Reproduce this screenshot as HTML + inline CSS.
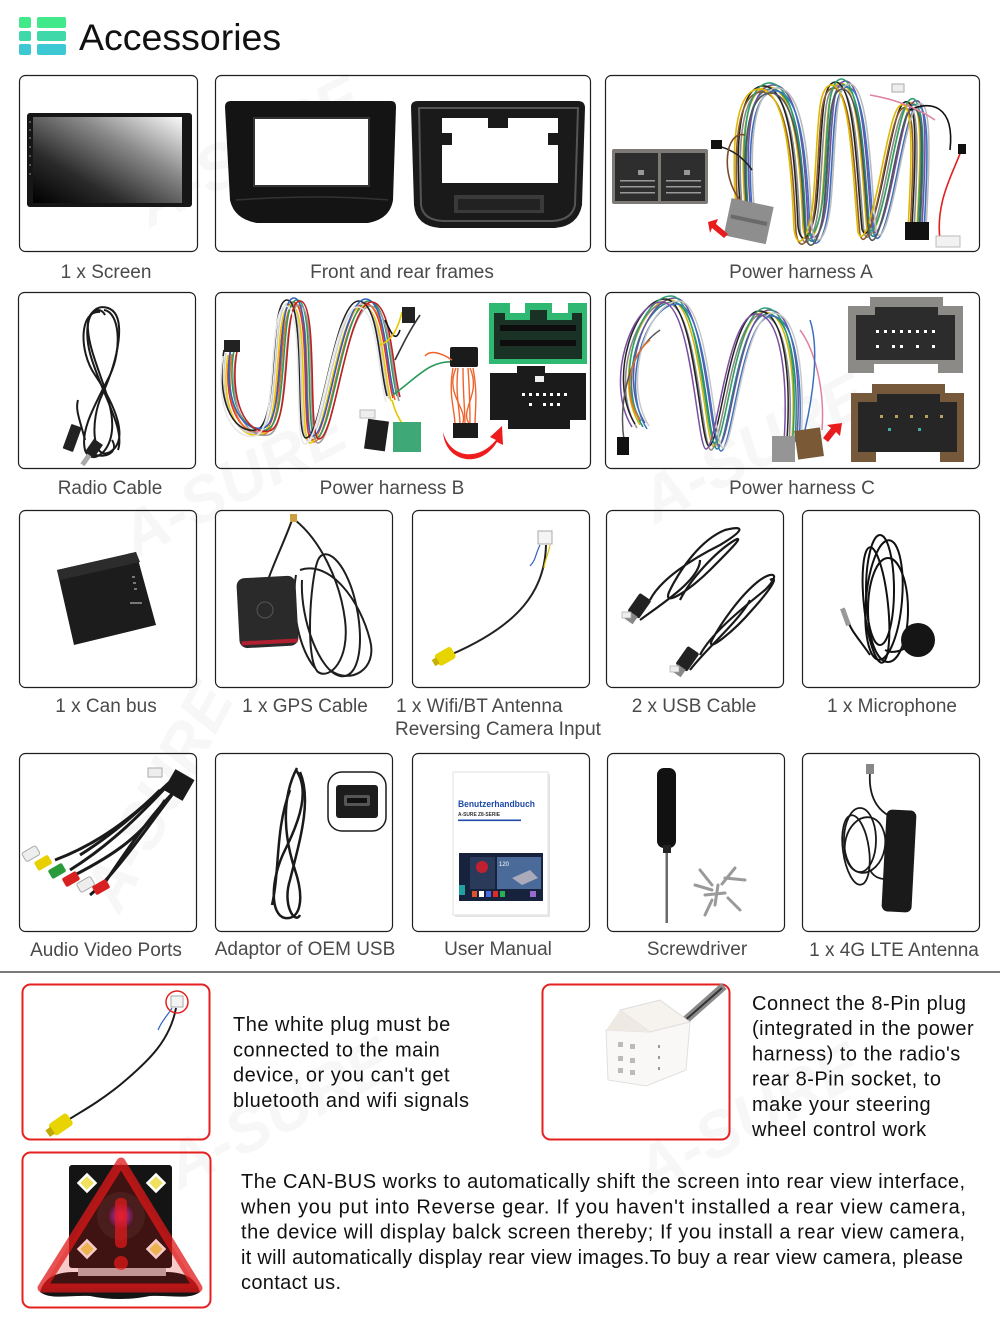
<!DOCTYPE html>
<html><head><meta charset="utf-8"><style>
html,body{margin:0;padding:0;background:#fff;}
body{width:1000px;height:1319px;overflow:hidden;position:relative;}
svg{position:absolute;left:0;top:0;}
.lb{font-family:"Liberation Sans",Arial,sans-serif;font-size:19px;fill:#4a4a4a;}
.bt{font-family:"Liberation Sans",Arial,sans-serif;font-size:20px;fill:#111;letter-spacing:0.5px;}
</style></head><body>
<svg width="1000" height="1319" viewBox="0 0 1000 1319" xmlns="http://www.w3.org/2000/svg">
<defs>
<linearGradient id="scr" x1="0" y1="1" x2="1" y2="0">
<stop offset="0" stop-color="#000"/><stop offset="0.3" stop-color="#2a2a2a"/><stop offset="0.65" stop-color="#8a8a8a"/><stop offset="1" stop-color="#fafafa"/>
</linearGradient>
<radialGradient id="lens" cx="0.5" cy="0.5" r="0.5">
<stop offset="0" stop-color="#e04080"/><stop offset="0.5" stop-color="#7a2a8a"/><stop offset="1" stop-color="#1a1a1a"/>
</radialGradient>
<path id="ha" d="M745,205 C740,140 745,90 767,87 C795,85 800,160 803,227 C806,250 818,240 822,200 C828,130 825,85 840,83 C860,82 862,180 867,230 C872,245 880,220 890,170 C900,120 905,100 913,103 C925,110 918,200 917,230"/>
<path id="hb" d="M230,352 C222,400 238,436 262,432 C286,428 274,302 293,302 C312,302 300,440 312,440 C328,440 340,302 365,303 C385,305 385,370 393,398"/>
<path id="hc" d="M640,425 C612,380 640,300 670,300 C700,300 705,447 714,447 C725,447 735,310 765,312 C790,314 796,380 792,440"/>
</defs>

<!-- header -->
<rect x="19" y="17" width="12" height="11" rx="2" fill="#41e98b"/>
<rect x="37" y="17" width="29" height="11" rx="2" fill="#41e98b"/>
<rect x="19" y="31" width="12" height="10" rx="2" fill="#3fd8a8"/>
<rect x="37" y="31" width="29" height="10" rx="2" fill="#3fd8a8"/>
<rect x="19" y="44" width="12" height="11" rx="2" fill="#3cc9d4"/>
<rect x="37" y="44" width="29" height="11" rx="2" fill="#3cc9d4"/>
<text x="79" y="50" font-family="Liberation Sans, Arial, sans-serif" font-size="37.5" fill="#111">Accessories</text>

<!-- watermarks -->
<g font-family="Liberation Sans, Arial, sans-serif" font-weight="bold" font-style="italic" font-size="64" fill="#000" opacity="0.035">
<text transform="translate(150,228) rotate(-28)">A-SURE</text>
<text transform="translate(135,560) rotate(-28)">A-SURE</text>
<text transform="translate(655,525) rotate(-28)">A-SURE</text>
<text transform="translate(120,915) rotate(-62)">A-SURE</text>
<text transform="translate(180,1190) rotate(-28)">A-SURE</text>
<text transform="translate(650,1195) rotate(-28)">A-SURE</text>
</g>

<!-- boxes -->
<g fill="none" stroke="#1e1e1e" stroke-width="1.2">
<rect x="19.5" y="75.5" width="178" height="176" rx="6"/>
<rect x="215.5" y="75.5" width="375" height="176" rx="6"/>
<rect x="605.5" y="75.5" width="374" height="176" rx="6"/>
<rect x="18.5" y="292.5" width="177" height="176" rx="6"/>
<rect x="215.5" y="292.5" width="375" height="176" rx="6"/>
<rect x="605.5" y="292.5" width="374" height="176" rx="6"/>
<rect x="19.5" y="510.5" width="177" height="177" rx="6"/>
<rect x="215.5" y="510.5" width="177" height="177" rx="6"/>
<rect x="412.5" y="510.5" width="177" height="177" rx="6"/>
<rect x="606.5" y="510.5" width="177" height="177" rx="6"/>
<rect x="802.5" y="510.5" width="177" height="177" rx="6"/>
<rect x="19.5" y="753.5" width="177" height="178" rx="6"/>
<rect x="215.5" y="753.5" width="177" height="178" rx="6"/>
<rect x="412.5" y="753.5" width="177" height="178" rx="6"/>
<rect x="607.5" y="753.5" width="177" height="178" rx="6"/>
<rect x="802.5" y="753.5" width="177" height="178" rx="6"/>
</g>
<line x1="0" y1="972" x2="1000" y2="972" stroke="#7a7a7a" stroke-width="2"/>
<g fill="none" stroke="#e52020" stroke-width="2">
<rect x="22.5" y="984.5" width="187" height="155" rx="8"/>
<rect x="542.5" y="984.5" width="187" height="155" rx="8"/>
<rect x="22.5" y="1152.5" width="188" height="155" rx="8"/>
</g>

<!-- 1 screen -->
<rect x="27" y="113" width="165" height="94" rx="3" fill="#161616"/>
<rect x="33" y="117" width="149" height="86" fill="url(#scr)"/>
<g fill="#888"><circle cx="30" cy="122" r="0.9"/><circle cx="30" cy="130" r="0.9"/><circle cx="30" cy="138" r="0.9"/><circle cx="30" cy="147" r="0.9"/><circle cx="30" cy="156" r="0.9"/><circle cx="30" cy="165" r="0.9"/><circle cx="30" cy="174" r="0.9"/></g>

<!-- 2 frames -->
<path d="M225,107 Q225,101 231,101 L391,101 Q396,101 396,107 L393,200 Q390,219 368,223 L257,223 Q234,219 230,200 Z" fill="#141414"/>
<path d="M254,118 L369,118 L369,186 L254,186 Z" fill="#fff" stroke="#333" stroke-width="2"/>
<path d="M236,200 Q320,194 388,200" stroke="#333" stroke-width="1.5" fill="none"/>
<path d="M411,107 Q411,101 418,101 L578,101 Q585,101 585,108 L582,205 Q578,226 555,228 L440,228 Q416,226 414,205 Z" fill="#1a1a1a"/>
<path d="M419,108 L578,108 L575,205 Q572,220 552,221 L443,221 Q423,220 421,205 Z" fill="none" stroke="#555" stroke-width="2"/>
<path d="M442,118 L488,118 L488,128 L508,128 L508,118 L558,118 L558,183 L442,183 Z" fill="#fff"/>
<rect x="442" y="133" width="10" height="12" fill="#1a1a1a"/><rect x="548" y="133" width="10" height="12" fill="#1a1a1a"/>
<rect x="454" y="195" width="90" height="18" fill="#3a3a3a"/>
<rect x="458" y="199" width="82" height="11" fill="#222"/>

<!-- 3 harness A -->
<rect x="612" y="149" width="96" height="55" rx="2" fill="#7d7a76"/>
<rect x="615" y="153" width="43" height="48" fill="#2e2e2e"/><rect x="661" y="153" width="44" height="48" fill="#2e2e2e"/>
<g fill="#999"><rect x="620" y="180" width="35" height="1.5"/><rect x="620" y="186" width="35" height="1.5"/><rect x="620" y="192" width="35" height="1.5"/><rect x="666" y="180" width="35" height="1.5"/><rect x="666" y="186" width="35" height="1.5"/><rect x="666" y="192" width="35" height="1.5"/>
<rect x="638" y="170" width="6" height="5"/><rect x="684" y="170" width="6" height="5"/></g>
<g fill="none" stroke-width="1.6">
<use href="#ha" stroke="#d8aa00"/>
<use href="#ha" stroke="#1f8a80" transform="translate(3,2)"/>
<use href="#ha" stroke="#8a8a8a" transform="translate(-3,3)"/>
<use href="#ha" stroke="#7350a0" transform="translate(5,-2)"/>
<use href="#ha" stroke="#222" transform="translate(-5,-1)"/>
<use href="#ha" stroke="#3b70c0" transform="translate(7,4)"/>
<use href="#ha" stroke="#8b5a2b" transform="translate(-7,5)"/>
<use href="#ha" stroke="#2ea070" transform="translate(1,-4)"/>
<use href="#ha" stroke="#bbb" transform="translate(9,1)"/>
<use href="#ha" stroke="#e0b800" transform="translate(-9,2)"/>
<use href="#ha" stroke="#555" transform="translate(2,6)"/>
<path d="M718,146 C735,150 745,160 752,170" stroke="#222"/>
<path d="M745,135 C725,130 720,175 740,200" stroke="#7a4a2a"/>
<path d="M910,110 C930,100 955,105 950,150" stroke="#111"/>
<path d="M940,240 C935,200 955,170 962,148" stroke="#e02020"/>
<path d="M870,95 C900,100 920,110 935,120" stroke="#e080a0"/>
</g>
<rect x="711" y="140" width="11" height="9" fill="#111"/>
<rect x="958" y="144" width="8" height="10" fill="#111"/>
<rect x="905" y="222" width="24" height="18" fill="#111"/>
<rect x="936" y="236" width="24" height="11" fill="#f2f2f2" stroke="#bbb"/>
<rect x="892" y="84" width="12" height="8" fill="#eee" stroke="#aaa"/>
<g transform="rotate(12 748 222)"><rect x="727" y="202" width="43" height="38" fill="#8e8e8e"/><rect x="730" y="218" width="37" height="4" fill="#6a6a6a"/></g>
<polygon points="708,222 718,219 716,224 728,234 724,238 712,228 710,233" fill="#e81c1c"/>

<!-- 4 radio cable -->
<g fill="none" stroke="#1a1a1a" stroke-width="2">
<path d="M100,312 C80,310 78,350 95,375 C115,405 130,440 110,452 C92,462 90,420 102,395 C118,360 128,315 108,308 C88,302 82,330 92,360 C105,400 125,430 118,450"/>
<path d="M104,310 C120,312 122,350 110,375 C95,405 80,430 85,450 C90,465 110,455 112,430 C115,400 90,360 88,330 C86,310 100,305 105,315"/>
<path d="M85,440 C80,420 75,410 78,400"/>
<path d="M112,440 C118,450 110,458 95,455"/>
</g>
<g transform="rotate(20 72 440)"><rect x="66" y="425" width="11" height="26" rx="1" fill="#222"/></g>
<g transform="rotate(35 92 452)"><rect x="86" y="440" width="11" height="16" fill="#222"/><rect x="89" y="456" width="5" height="12" fill="#aaa"/></g>

<!-- 5 harness B -->
<g fill="none" stroke-width="1.6">
<use href="#hb" stroke="#e03030"/>
<use href="#hb" stroke="#f07020" transform="translate(2,2)"/>
<use href="#hb" stroke="#e8c800" transform="translate(-2,3)"/>
<use href="#hb" stroke="#2a9a5a" transform="translate(4,-2)"/>
<use href="#hb" stroke="#cfcfcf" transform="translate(-4,1)"/>
<use href="#hb" stroke="#999" transform="translate(6,3)"/>
<use href="#hb" stroke="#222" transform="translate(-6,-2)"/>
<use href="#hb" stroke="#3060c0" transform="translate(1,-4)"/>
<use href="#hb" stroke="#c02020" transform="translate(7,-1)"/>
<use href="#hb" stroke="#e8e8e8" transform="translate(-7,4)"/>
<path d="M385,320 C390,330 395,345 400,330" stroke="#111"/>
<path d="M395,360 C405,340 410,330 420,315" stroke="#333"/>
<path d="M380,345 C395,340 400,320 402,312" stroke="#e8c800"/>
<path d="M392,400 C396,415 400,420 405,428" stroke="#e8c800"/>
<path d="M393,395 C420,375 430,360 455,362" stroke="#2a9a5a"/>
</g>
<rect x="224" y="340" width="16" height="12" fill="#222"/>
<rect x="402" y="307" width="13" height="16" fill="#222"/>
<rect x="366" y="420" width="21" height="30" fill="#1e1e1e" transform="rotate(8 376 435)"/>
<rect x="393" y="422" width="28" height="30" fill="#3ea877"/>
<rect x="360" y="410" width="15" height="8" fill="#eee" stroke="#bbb"/>
<rect x="450" y="347" width="28" height="20" rx="2" fill="#1b1b1b"/>
<g stroke="#f0642c" stroke-width="1.4" fill="none">
<path d="M453,368 C448,395 455,410 455,425"/><path d="M458,368 C455,395 460,410 460,425"/><path d="M463,368 C463,395 465,410 465,425"/><path d="M468,368 C470,395 470,410 470,425"/><path d="M473,368 C478,395 475,410 475,425"/><path d="M456,368 C444,395 470,410 462,425"/><path d="M470,368 C482,395 458,410 470,425"/>
<path d="M452,360 C440,352 430,350 425,356"/>
</g>
<rect x="453" y="423" width="25" height="15" fill="#1b1b1b"/>
<path d="M443,432 C450,458 478,462 496,440 L490,437 L502,426 L503,445 L497,442 C480,470 445,462 443,432 Z" fill="#ee1c1c"/>
<path d="M489,303 L510,303 L510,313 L525,313 L525,303 L552,303 L552,313 L568,313 L568,303 L587,303 L587,364 L489,364 Z" fill="#2eb872"/>
<path d="M494,313 L505,313 L505,320 L530,320 L530,310 L547,310 L547,320 L572,320 L572,313 L582,313 L582,359 L494,359 Z" fill="#1a3226"/>
<g fill="#0d0d0d"><rect x="500" y="325" width="76" height="6"/><rect x="500" y="340" width="76" height="6"/></g>
<path d="M490,373 L517,373 L517,366 L545,366 L545,373 L586,373 L586,420 L570,420 L570,429 L508,429 L508,420 L490,420 Z" fill="#1b1b1b"/>
<g fill="#fff"><rect x="522" y="393" width="3" height="3"/><rect x="529" y="393" width="3" height="3"/><rect x="536" y="393" width="3" height="3"/><rect x="543" y="393" width="3" height="3"/><rect x="550" y="393" width="3" height="3"/><rect x="557" y="393" width="3" height="3"/><rect x="564" y="393" width="3" height="3"/><rect x="529" y="403" width="3" height="3"/><rect x="543" y="403" width="3" height="3"/><rect x="550" y="403" width="3" height="3"/><rect x="557" y="403" width="3" height="3"/></g>
<rect x="535" y="376" width="9" height="6" fill="#eee"/>

<!-- 6 harness C -->
<g fill="none" stroke-width="1.5">
<use href="#hc" stroke="#d8b400"/>
<use href="#hc" stroke="#1f8a80" transform="translate(3,2)"/>
<use href="#hc" stroke="#888" transform="translate(-3,3)"/>
<use href="#hc" stroke="#6a50a0" transform="translate(5,-2)"/>
<use href="#hc" stroke="#222" transform="translate(-5,-1)"/>
<use href="#hc" stroke="#3b70c0" transform="translate(7,4)"/>
<use href="#hc" stroke="#2ea070" transform="translate(1,-4)"/>
<use href="#hc" stroke="#c8c8c8" transform="translate(9,1)"/>
<use href="#hc" stroke="#7a4fa0" transform="translate(-8,2)"/>
<path d="M660,330 C630,350 618,400 624,440" stroke="#555"/>
<path d="M650,340 C625,360 625,400 640,420" stroke="#e07030"/>
<path d="M800,330 C815,350 825,390 822,430" stroke="#e080a0"/>
<path d="M810,320 C820,350 812,400 805,430" stroke="#3b70c0"/>
</g>
<rect x="617" y="437" width="12" height="18" fill="#111"/>
<rect x="772" y="436" width="23" height="26" fill="#959595"/>
<rect x="796" y="429" width="26" height="29" fill="#7a5a36" transform="rotate(-8 809 443)"/>
<polygon points="842,423 840,436 836,432 828,442 823,438 831,428 827,425" fill="#e81c1c"/>
<path d="M848,306 L870,306 L870,297 L943,297 L943,306 L963,306 L963,373 L938,373 L938,364 L874,364 L874,373 L848,373 Z" fill="#8c8a86"/>
<path d="M856,315 L875,315 L875,307 L938,307 L938,315 L955,315 L955,360 L856,360 Z" fill="#2c2c2c"/>
<g fill="#fff"><rect x="876" y="330" width="3" height="3"/><rect x="884" y="330" width="3" height="3"/><rect x="892" y="330" width="3" height="3"/><rect x="900" y="330" width="3" height="3"/><rect x="908" y="330" width="3" height="3"/><rect x="916" y="330" width="3" height="3"/><rect x="924" y="330" width="3" height="3"/><rect x="932" y="330" width="3" height="3"/><rect x="876" y="345" width="3" height="3"/><rect x="892" y="345" width="3" height="3"/><rect x="900" y="345" width="3" height="3"/><rect x="916" y="345" width="3" height="3"/><rect x="932" y="345" width="3" height="3"/></g>
<path d="M851,393 L872,393 L872,384 L945,384 L945,393 L964,393 L964,462 L940,462 L940,452 L876,452 L876,462 L851,462 Z" fill="#76593a"/>
<path d="M858,402 L877,402 L877,394 L940,394 L940,402 L957,402 L957,452 L858,452 Z" fill="#262626"/>
<g fill="#b8a060"><rect x="880" y="415" width="3" height="3"/><rect x="895" y="415" width="3" height="3"/><rect x="910" y="415" width="3" height="3"/><rect x="925" y="415" width="3" height="3"/><rect x="940" y="415" width="3" height="3"/></g>
<g fill="#4aa"><rect x="888" y="428" width="3" height="3"/><rect x="918" y="428" width="3" height="3"/></g>

<!-- 7 can bus -->
<polygon points="57,570 136,552 156,625 74,645" fill="#1c1c1c"/>
<polygon points="57,570 136,552 140,562 60,580" fill="#2c2c2c"/>
<g fill="#777"><rect x="132" y="576" width="3" height="2"/><rect x="133" y="582" width="3" height="2"/><rect x="134" y="588" width="3" height="2"/><rect x="130" y="602" width="12" height="2"/></g>

<!-- 8 GPS -->
<g fill="none" stroke="#1e1e1e" stroke-width="2">
<path d="M292,520 C285,540 275,560 268,580"/>
<path d="M295,520 C320,540 340,580 345,620 C350,660 330,680 318,672 C305,660 310,580 318,560 C325,545 345,560 355,600 C365,640 360,680 340,676 C320,672 300,620 302,580"/>
<path d="M300,570 C330,560 360,600 370,640 C378,670 350,685 330,670"/>
<path d="M296,575 C290,610 300,650 315,668"/>
</g>
<rect x="290" y="514" width="7" height="8" fill="#c8a040"/>
<rect x="238" y="577" width="59" height="70" rx="8" fill="#2a2a2a" transform="rotate(-3 267 612)"/>
<rect x="240" y="640" width="56" height="4" fill="#b02030" transform="rotate(-3 267 612)"/>
<circle cx="265" cy="610" r="8" fill="none" stroke="#555" stroke-width="1"/>

<!-- 9 wifi -->
<path d="M546,545 C545,590 520,625 450,655" fill="none" stroke="#222" stroke-width="2"/>
<path d="M540,545 C535,555 536,560 530,566" stroke="#3060c0" stroke-width="1.2" fill="none"/>
<path d="M550,545 C548,555 545,560 544,568" stroke="#e0c000" stroke-width="1.2" fill="none"/>
<rect x="538" y="531" width="14" height="13" fill="#f4f4f4" stroke="#aaa"/>
<g transform="rotate(-30 445 657)"><rect x="436" y="650" width="19" height="13" rx="3" fill="#e8d400"/><rect x="432" y="653" width="5" height="7" fill="#c8b000"/></g>

<!-- 10 USB -->
<g fill="none" stroke="#1a1a1a" stroke-width="2.2">
<path d="M650,600 C660,580 690,560 720,545 C745,530 745,525 725,530 C700,540 680,570 670,590 C660,610 690,590 710,570 C730,550 745,535 735,540 C715,552 690,580 680,600"/>
<path d="M700,655 C710,635 740,610 765,590 C780,575 775,570 760,580 C740,595 720,625 712,640 C705,655 735,630 752,610 C770,590 780,575 770,580"/>
<path d="M640,620 C660,605 700,580 700,560"/>
<path d="M690,670 C705,650 740,620 750,600"/>
</g>
<g transform="rotate(-55 640 605)"><rect x="628" y="598" width="22" height="14" rx="2" fill="#222"/><rect x="620" y="600" width="9" height="10" fill="#888"/></g>
<g transform="rotate(-55 688 658)"><rect x="676" y="651" width="22" height="14" rx="2" fill="#222"/><rect x="668" y="653" width="9" height="10" fill="#888"/></g>
<rect x="622" y="612" width="9" height="6" fill="#eee" stroke="#aaa" stroke-width=".7"/>
<rect x="670" y="666" width="9" height="6" fill="#eee" stroke="#aaa" stroke-width=".7"/>

<!-- 11 microphone -->
<g fill="none" stroke="#111" stroke-width="2">
<ellipse cx="880" cy="590" rx="14" ry="55"/><ellipse cx="884" cy="600" rx="18" ry="60" transform="rotate(5 884 600)"/><ellipse cx="876" cy="605" rx="12" ry="58" transform="rotate(-6 876 605)"/><ellipse cx="888" cy="610" rx="20" ry="52"/>
<path d="M885,650 C895,655 905,650 915,640"/><path d="M870,655 C860,640 850,630 848,620"/>
</g>
<circle cx="918" cy="640" r="17" fill="#151515"/>
<rect x="843" y="608" width="5" height="18" fill="#999" transform="rotate(-20 845 617)"/>

<!-- 12 AV ports -->
<g fill="none" stroke="#1a1a1a" stroke-width="3">
<path d="M172,780 C150,800 120,830 80,855"/><path d="M168,785 C140,815 110,845 70,870"/><path d="M176,790 C150,815 120,860 100,890"/><path d="M160,790 C130,820 95,845 55,860"/><path d="M172,795 C145,830 115,875 90,895"/><path d="M165,800 C140,840 105,860 65,880"/>
</g>
<rect x="168" y="773" width="22" height="24" fill="#1a1a1a" transform="rotate(30 179 785)"/>
<rect x="148" y="768" width="14" height="9" fill="#eee" stroke="#aaa"/>
<g transform="rotate(-30 60 860)">
<rect x="30" y="835" width="16" height="10" rx="2" fill="#eee" stroke="#aaa"/>
<rect x="36" y="849" width="16" height="10" rx="2" fill="#e8d000"/>
<rect x="44" y="863" width="16" height="10" rx="2" fill="#2a9a3a"/>
<rect x="52" y="877" width="16" height="10" rx="2" fill="#d82020"/>
<rect x="62" y="889" width="16" height="10" rx="2" fill="#eee" stroke="#aaa"/>
<rect x="74" y="899" width="16" height="10" rx="2" fill="#d82020"/>
</g>

<!-- 13 adaptor -->
<g fill="none" stroke="#1a1a1a" stroke-width="2.5">
<path d="M297,768 C280,800 285,840 295,870 C305,900 300,920 285,918 C270,915 270,880 285,850 C300,820 310,790 296,770"/>
<path d="M300,772 C312,800 300,840 290,880 C282,905 295,925 300,915"/>
<path d="M290,790 C275,830 280,870 272,905"/>
</g>
<rect x="328" y="772" width="58" height="59" rx="14" fill="#fff" stroke="#1a1a1a" stroke-width="1.5"/>
<rect x="336" y="785" width="42" height="33" rx="3" fill="#1c1c1c"/>
<rect x="344" y="795" width="26" height="11" rx="2" fill="#555"/>
<rect x="347" y="798" width="20" height="5" fill="#111"/>

<!-- 14 manual -->
<rect x="455" y="774" width="95" height="143" fill="#ccc" opacity="0.5"/>
<rect x="453" y="772" width="95" height="143" fill="#fff" stroke="#e2e2e2"/>
<text x="458" y="807" font-family="Liberation Sans, Arial, sans-serif" font-weight="bold" font-size="9" fill="#1d4aa8" textLength="77" lengthAdjust="spacingAndGlyphs">Benutzerhandbuch</text>
<text x="458" y="816" font-family="Liberation Sans, Arial, sans-serif" font-weight="bold" font-size="5" fill="#333" textLength="42" lengthAdjust="spacingAndGlyphs">A-SURE Z8-SERIE</text>
<rect x="458" y="819.5" width="63" height="1.6" fill="#1d4aa8"/>
<rect x="459" y="853" width="84" height="48" fill="#17223c"/>
<rect x="470" y="857" width="25" height="32" fill="#2a3a5a"/>
<circle cx="482" cy="867" r="6" fill="#c02030"/>
<rect x="497" y="857" width="44" height="32" fill="#4a6a9a"/>
<text x="499" y="866" font-family="Liberation Sans, Arial, sans-serif" font-size="6" fill="#fff">120</text>
<path d="M512,878 L530,870 L538,878 L522,885 Z" fill="#aab"/>
<g><rect x="472" y="891" width="5" height="6" fill="#e0502a"/><rect x="479" y="891" width="5" height="6" fill="#fff"/><rect x="486" y="891" width="5" height="6" fill="#4a6ae0"/><rect x="493" y="891" width="5" height="6" fill="#e02a2a"/><rect x="500" y="891" width="5" height="6" fill="#2ab050"/><rect x="530" y="891" width="6" height="6" fill="#9a6ad0"/></g>
<rect x="459" y="885" width="6" height="10" fill="#20a0a0"/>

<!-- 15 screwdriver -->
<rect x="657" y="768" width="19" height="80" rx="7" fill="#111"/>
<rect x="663" y="845" width="8" height="8" fill="#222"/>
<rect x="665.5" y="853" width="2.5" height="70" fill="#6a6a6a"/>
<g stroke="#9a9a9a" stroke-width="3" stroke-linecap="round">
<line x1="700" y1="870" x2="712" y2="885"/><line x1="735" y1="868" x2="722" y2="884"/><line x1="725" y1="878" x2="745" y2="880"/><line x1="705" y1="895" x2="725" y2="893"/><line x1="712" y1="900" x2="705" y2="915"/><line x1="728" y1="898" x2="740" y2="910"/><line x1="718" y1="885" x2="715" y2="905"/><line x1="695" y1="885" x2="712" y2="890"/>
</g>

<!-- 16 4G antenna -->
<g fill="none" stroke="#1a1a1a" stroke-width="1.8">
<path d="M870,772 C868,800 880,815 900,820"/>
<ellipse cx="860" cy="840" rx="16" ry="32"/><ellipse cx="865" cy="845" rx="20" ry="28" transform="rotate(10 865 845)"/><ellipse cx="856" cy="850" rx="13" ry="35" transform="rotate(-8 856 850)"/>
<path d="M870,870 C875,880 885,880 895,878"/>
</g>
<rect x="866" y="764" width="8" height="10" fill="#888"/>
<rect x="884" y="810" width="30" height="102" rx="6" fill="#1a1a1a" transform="rotate(3 899 861)"/>

<!-- bottom L1 -->
<path d="M176,1008 C170,1040 150,1060 120,1085 C95,1105 80,1112 65,1122" fill="none" stroke="#1a1a1a" stroke-width="2"/>
<path d="M172,1008 C168,1015 162,1020 158,1030" stroke="#3060c0" stroke-width="1.2" fill="none"/>
<rect x="171" y="996" width="12" height="11" fill="#f4f4f4" stroke="#aaa"/>
<circle cx="177" cy="1002" r="11" fill="none" stroke="#e52020" stroke-width="1.5"/>
<g transform="rotate(-35 60 1125)"><rect x="50" y="1118" width="22" height="14" rx="3" fill="#e8d400"/><rect x="45" y="1121" width="6" height="8" fill="#c0a800"/></g>

<!-- bottom R1 -->
<line x1="672" y1="1032" x2="724" y2="986" stroke="#8a8a8a" stroke-width="8"/>
<line x1="674" y1="1030" x2="722" y2="988" stroke="#333" stroke-width="2"/>
<polygon points="620,1010 660,1000 690,1022 650,1032" fill="#f6f2ee" stroke="#ddd"/>
<polygon points="606,1030 650,1032 690,1022 686,1070 646,1086 608,1080" fill="#faf8f6" stroke="#e0e0e0"/>
<polygon points="606,1030 620,1010 650,1032" fill="#efe9e4"/>
<g fill="#bbb"><rect x="618" y="1042" width="5" height="5"/><rect x="630" y="1044" width="5" height="5"/><rect x="618" y="1056" width="5" height="5"/><rect x="630" y="1058" width="5" height="5"/><rect x="618" y="1068" width="5" height="5"/><rect x="630" y="1070" width="5" height="5"/></g>
<g fill="#999"><rect x="658" y="1045" width="2" height="3"/><rect x="658" y="1056" width="2" height="3"/><rect x="658" y="1067" width="2" height="3"/></g>

<!-- bottom camera -->
<path d="M40,1292 C45,1275 60,1272 75,1272 L165,1272 C180,1272 195,1275 200,1292 C190,1300 170,1295 150,1296 C130,1300 110,1300 90,1296 C70,1295 50,1300 40,1292 Z" fill="#141414"/>
<rect x="78" y="1262" width="88" height="14" fill="#bbb"/>
<rect x="69" y="1165" width="103" height="103" rx="3" fill="#141414"/>
<g fill="#f0e060" stroke="#fff" stroke-width="2.5">
<rect x="81" y="1177" width="12" height="12" transform="rotate(45 87 1183)"/>
<rect x="150" y="1177" width="12" height="12" transform="rotate(45 156 1183)"/>
<rect x="81" y="1243" width="12" height="12" transform="rotate(45 87 1249)"/>
<rect x="150" y="1243" width="12" height="12" transform="rotate(45 156 1249)"/>
</g>
<circle cx="121" cy="1216" r="24" fill="#222"/>
<circle cx="121" cy="1216" r="14" fill="url(#lens)"/>
<polygon points="121,1162 198,1288 42,1288" fill="#e01010" fill-opacity="0.22" stroke="#e01818" stroke-opacity="0.75" stroke-width="9" stroke-linejoin="round"/>
<rect x="115" y="1198" width="12" height="50" rx="5" fill="#e81818" opacity="0.7"/>
<circle cx="121" cy="1263" r="7" fill="#e81818" opacity="0.7"/>

<!-- labels -->
<g class="lb" text-anchor="middle">
<text x="106" y="278">1 x Screen</text>
<text x="402" y="278">Front and rear frames</text>
<text x="801" y="278">Power harness A</text>
<text x="110" y="494">Radio Cable</text>
<text x="392" y="494">Power harness B</text>
<text x="802" y="494">Power harness C</text>
<text x="106" y="712">1 x Can bus</text>
<text x="305" y="712">1 x GPS Cable</text>
<text x="694" y="712">2 x USB Cable</text>
<text x="892" y="712">1 x Microphone</text>
<text x="106" y="956">Audio Video Ports</text>
<text x="305" y="955">Adaptor of OEM USB</text>
<text x="498" y="955">User Manual</text>
<text x="697" y="955">Screwdriver</text>
<text x="894" y="956">1 x 4G LTE Antenna</text>
</g>
<g class="lb">
<text x="396" y="712">1 x Wifi/BT Antenna</text>
<text x="395" y="735">Reversing Camera Input</text>
</g>

<!-- bottom texts -->
<g class="bt">
<text x="233" y="1031">The white plug must be</text>
<text x="233" y="1056.3">connected to the main</text>
<text x="233" y="1081.6">device, or you can't get</text>
<text x="233" y="1106.9">bluetooth and wifi signals</text>
<text x="752" y="1010">Connect the 8-Pin plug</text>
<text x="752" y="1035.2">(integrated in the power</text>
<text x="752" y="1060.4">harness) to the radio's</text>
<text x="752" y="1085.6">rear 8-Pin socket, to</text>
<text x="752" y="1110.8">make your steering</text>
<text x="752" y="1136">wheel control work</text>
</g>
<g class="bt" style="letter-spacing:0">
<text x="241" y="1188" textLength="724" lengthAdjust="spacing">The CAN-BUS works to automatically shift the screen into rear view interface,</text>
<text x="241" y="1213.3" textLength="725" lengthAdjust="spacing">when you put into Reverse gear. If you haven't installed a rear view camera,</text>
<text x="241" y="1238.6" textLength="724" lengthAdjust="spacing">the device will display balck screen thereby; If you install a rear view camera,</text>
<text x="241" y="1263.9" textLength="722" lengthAdjust="spacing">it will automatically display rear view images.To buy a rear view camera, please</text>
<text x="241" y="1289.2" textLength="100" lengthAdjust="spacing">contact us.</text>
</g>
</svg>
</body></html>
